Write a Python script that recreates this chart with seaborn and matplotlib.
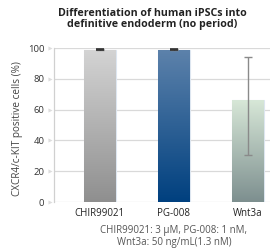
import numpy as np
import pandas as pd
import seaborn as sns
import matplotlib.pyplot as plt
from matplotlib.colors import LinearSegmentedColormap
import matplotlib.transforms as mtransforms

# data
categories = ['CHIR99021', 'PG-008', 'Wnt3a']
values = [99.0, 99.0, 66.5]
err_low = [0.4, 0.3, 36.0]
err_high = [0.4, 0.3, 27.5]
yticks = [0, 20, 40, 60, 80, 100]

# top -> bottom gradient colours per bar
grad_top = ['#d4d4d4', '#5d82ab', '#d8e8d8']
grad_bot = ['#8f8f8f', '#00407f', '#7d8f8f']

plt.rcParams['font.family'] = ['Open Sans', 'DejaVu Sans']

df = pd.DataFrame({'treatment': categories, 'pct': values})

fig = plt.figure(figsize=(2.71, 2.5), dpi=100)
ax = fig.add_axes([54 / 271, 48 / 250, (270 - 54) / 271, (202 - 48) / 250])

sns.barplot(data=df, x='treatment', y='pct', ax=ax, width=0.43,
            color='white', edgecolor='#dde6f0', linewidth=0.8, zorder=2)

# gradient fill clipped to each bar
for i, p in enumerate(ax.patches):
    x0, y0 = p.get_x(), p.get_y()
    w, h = p.get_width(), p.get_height()
    cmap = LinearSegmentedColormap.from_list('g', [grad_bot[i], grad_top[i]])
    grad = np.linspace(0, 1, 256).reshape(-1, 1)
    im = ax.imshow(grad, cmap=cmap, aspect='auto', origin='lower',
                   extent=[x0, x0 + w, y0, y0 + h], zorder=2.5)
    im.set_clip_path(p)
ax.set_xlim(-0.62, 2.3)
ax.set_ylim(0, 100)

ax.errorbar(range(len(categories)), values, yerr=[err_low, err_high],
            fmt='none', ecolor='#8a8a8a', elinewidth=1.0, capsize=3,
            capthick=1.0, zorder=4)
# tiny dark caps on the near-zero errors
ax.errorbar([0, 1], values[:2], yerr=[err_low[:2], err_high[:2]],
            fmt='none', ecolor='#333333', elinewidth=1.0, capsize=3,
            capthick=1.2, zorder=4)

ax.set_yticks(yticks)
ax.yaxis.grid(True, color='#d9d9d9', linewidth=0.9, zorder=0)
ax.set_axisbelow(True)
for s in ['top', 'right', 'bottom']:
    ax.spines[s].set_visible(False)
ax.spines['left'].set_color('#d0d0d0')
ax.spines['left'].set_linewidth(0.9)

ax.tick_params(axis='y', length=0, pad=7, labelsize=6.8, labelcolor='#333333')
ax.tick_params(axis='x', length=0, pad=4, labelsize=7, labelcolor='#222222')
# little triangle tick marks
trans = mtransforms.blended_transform_factory(ax.transAxes, ax.transData)
ax.scatter([-0.018] * len(yticks), yticks, marker='>', s=9, color='#dddddd',
           transform=trans, clip_on=False, zorder=5, linewidths=0)

ax.set_xlabel('')
ax.set_ylabel('CXCR4/c-KIT positive cells (%)', fontsize=7.2,
              color='#444444')
ax.yaxis.set_label_coords(-0.145, 0.477)

fig.text(152 / 271, 1 - 13 / 250, 'Differentiation of human iPSCs into',
         ha='center', va='center', fontsize=7.7, fontweight='bold', color='#222222')
fig.text(152 / 271, 1 - 25 / 250, 'definitive endoderm (no period)',
         ha='center', va='center', fontsize=7.7, fontweight='bold', color='#222222')

fig.text(174 / 271, 1 - 231 / 250, 'CHIR99021: 3 μM, PG-008: 1 nM,',
         ha='center', va='center', fontsize=7, color='#555555')
fig.text(174 / 271, 1 - 243 / 250, 'Wnt3a: 50 ng/mL(1.3 nM)',
         ha='center', va='center', fontsize=7, color='#555555')

fig.savefig('out.png', dpi=100)
